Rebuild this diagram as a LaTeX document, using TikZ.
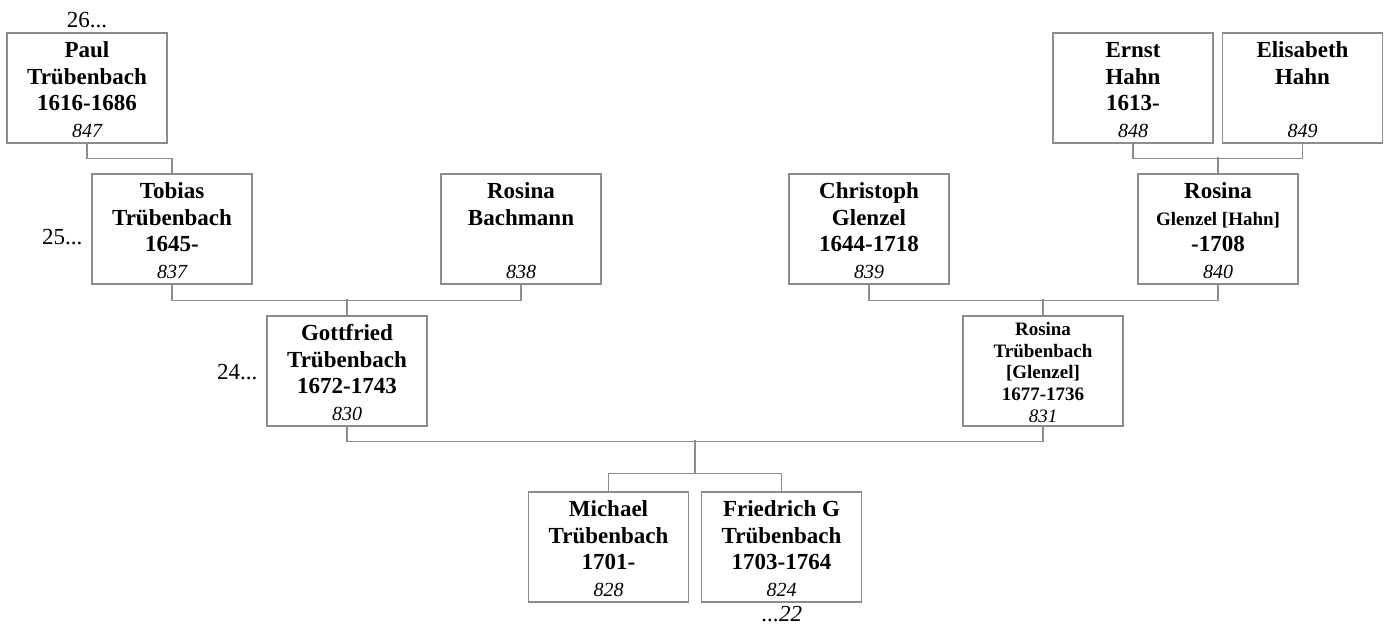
\documentclass[tikz,border=0pt]{standalone}
\usepackage{fontspec}
\setmainfont{Liberation Serif}
\usepackage{tikz}
\usetikzlibrary{calc}
\definecolor{boxgray}{RGB}{140,140,140}
\newcommand{\nr}[1]{{\fontsize{20}{26}\selectfont\mdseries\itshape #1}}

\begin{document}
\begin{tikzpicture}[x=1pt, y=1pt,
    every node/.style={align=center},
    person/.style={draw=boxgray, line width=1.2pt, minimum width=160pt, minimum height=110pt, inner sep=0pt,
        text height=104pt, text depth=6pt, font=\fontsize{23}{26.5}\selectfont\bfseries},
    smallperson/.style={person, text height=106pt, text depth=4pt, font=\fontsize{19}{21.6}\selectfont\bfseries},
    link/.style={draw=boxgray, line width=1.2pt},
    gen/.style={font=\fontsize{23}{26}\selectfont}]
                        \useasboundingbox (0, 0) rectangle (1388, -627);
                        \node[person] (paul) at (87, -88) {Paul\\Trübenbach\\1616-1686\\\nr{847}};
                        \node[person] (tobias) at (172, -229) {Tobias\\Trübenbach\\1645-\\\nr{837}};
                        \node[person] (bachmann) at (521, -229) {Rosina\\Bachmann\\\mbox{}\\\nr{838}};
                        \node[person] (gottfried) at (347, -371) {Gottfried\\Trübenbach\\1672-1743\\\nr{830}};
                        \node[person] (christoph) at (869, -229) {Christoph\\Glenzel\\1644-1718\\\nr{839}};
                        \node[person] (rosinag) at (1218, -229) {Rosina\\{\fontsize{19}{26}\selectfont Glenzel [Hahn]}\\-1708\\\nr{840}};
                        \node[person] (ernst) at (1133, -88) {Ernst\\Hahn\\1613-\\\nr{848}};
                        \node[person] (elisabeth) at (1302.5, -88) {Elisabeth\\Hahn\\\mbox{}\\\nr{849}};
                        \node[smallperson] (rosinat) at (1043, -371) {Rosina\\Trübenbach\\{[Glenzel]}\\1677-1736\\{\fontsize{19}{21.6}\selectfont\mdseries\itshape 831}};
                        \node[person] (michael) at (608.5, -547) {Michael\\Trübenbach\\1701-\\\nr{828}};
                        \node[person] (friedrich) at (781.5, -547) {Friedrich G\\Trübenbach\\1703-1764\\\nr{824}};
                        \node[gen] (gen26) at (87, -20) {26...};
                        \node[gen, anchor=east] (gen25) at (86, -237) {25...};
                        \node[gen, anchor=east] (gen24) at (261, -372) {24...};
                        \node[gen, font=\fontsize{23}{26}\selectfont\itshape] (gen22) at (782, -614) {...22};
                        \draw[link] (paul.south) -- ++(0, -15) -| (tobias.north);
                        \draw[link] (tobias.south) -- ++(0, -16) -| (bachmann.south);
                        \draw[link] (gottfried.north) -- ++(0, 16);
                        \draw[link] (ernst.south) -- ++(0, -15) -| (elisabeth.south);
                        \draw[link] (rosinag.north) -- ++(0, 16);
                        \draw[link] (christoph.south) -- ++(0, -16) -| (rosinag.south);
                        \draw[link] (rosinat.north) -- ++(0, 16);
                        \draw[link] (gottfried.south) -- ++(0, -15) -| (rosinat.south);
                        \coordinate (kids) at ($(michael.north)!0.5!(friedrich.north) + (0, 18)$);
                        \draw[link] (kids) -- ++(0, 33);
                        \draw[link] (michael.north) -- ++(0, 18) -| (friedrich.north);
                    \end{tikzpicture}
\end{document}
